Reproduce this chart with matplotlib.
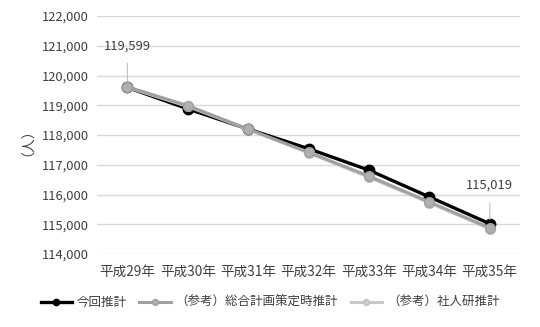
import matplotlib
matplotlib.use("Agg")
import matplotlib.pyplot as plt
from matplotlib.ticker import FuncFormatter

plt.rcParams['font.family'] = ['Noto Sans CJK JP', 'DejaVu Sans']

# data
years = ['平成29年', '平成30年', '平成31年', '平成32年', '平成33年', '平成34年', '平成35年']
kaikai = [119599, 118880, 118200, 117540, 116820, 115920, 115019]
sougou = [119620, 118990, 118200, 117420, 116620, 115750, 114880]
shajin = [119600, 118960, 118190, 117400, 116580, 115720, 114850]
series_names = ['今回推計', '（参考）総合計画策定時推計', '（参考）社人研推計']

fig = plt.figure(figsize=(5.4, 3.27), dpi=100)
ax = fig.add_axes([0.18, 0.223, 0.783, 0.728])

x = range(len(years))
# draw light ones first so black sits on top
ax.plot(x, shajin, color='#c8c8c8', lw=2.2, marker='o', ms=7,
        mfc='#d0d0d0', mec='#c0c0c0', label=series_names[2], zorder=3)
ax.plot(x, sougou, color='#a0a0a0', lw=2.2, marker='o', ms=7,
        mfc='#b0b0b0', mec='#a0a0a0', label=series_names[1], zorder=4)
ax.plot(x, kaikai, color='black', lw=2.4, marker='o', ms=7.5,
        mfc='black', mec='black', label=series_names[0], zorder=2)

ax.set_xlim(-0.5, len(years) - 0.5)
ax.set_ylim(114000, 122000)
ax.set_yticks(range(114000, 122001, 1000))
ax.yaxis.set_major_formatter(FuncFormatter(lambda v, p: f'{int(v):,}'))
ax.set_xticks(list(x))
ax.set_xticklabels(years)
ax.grid(axis='y', color='#d9d9d9', lw=1)
ax.set_axisbelow(True)
for s in ax.spines.values():
    s.set_visible(False)
ax.tick_params(length=0, labelsize=9.3, colors='#404040', pad=6)
ax.tick_params(axis='x', pad=8, labelsize=9.8)
ax.set_ylabel('（人）', fontsize=10, color='#404040', labelpad=10)

# data labels with leader lines
ax.annotate(f'{kaikai[0]:,}', xy=(0, kaikai[0]), xytext=(0, 121000),
            ha='center', va='center', fontsize=9.3, color='#404040',
            arrowprops=dict(arrowstyle='-', color='#c0c0c0', lw=0.8,
                            shrinkA=6, shrinkB=3))
ax.annotate(f'{kaikai[-1]:,}', xy=(6, kaikai[-1]), xytext=(6, 116300),
            ha='center', va='center', fontsize=9.3, color='#404040',
            arrowprops=dict(arrowstyle='-', color='#c0c0c0', lw=0.8,
                            shrinkA=6, shrinkB=3))

h, l = ax.get_legend_handles_labels()
order = [2, 1, 0]
leg = fig.legend([h[i] for i in order], [l[i] for i in order],
                 loc='center', bbox_to_anchor=(0.5, 0.075), ncol=3,
                 frameon=False, fontsize=9, handlelength=2.5,
                 columnspacing=1.0, handletextpad=0.4, markerscale=0.6)
for t in leg.get_texts():
    t.set_color('#404040')

fig.savefig('out.png', dpi=100, facecolor='white')
